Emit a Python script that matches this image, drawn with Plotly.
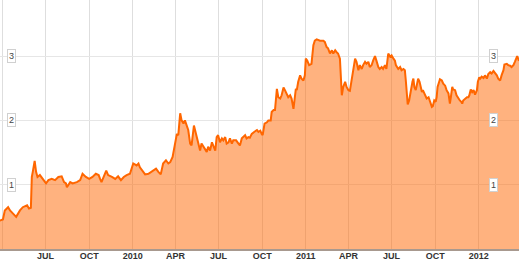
import pandas as pd
import plotly.graph_objects as go

# Days since 2009-04-01 and values
day_offsets = [
    -6, 1, 5, 12, 16, 22, 29, 37, 43, 52, 56, 60, 62, 64, 68, 71, 74, 79, 85, 92, 97, 104, 111, 118, 125,
    130, 134, 136, 143, 148, 157, 164, 169, 176, 183, 190, 197, 203, 206, 209, 219, 223, 231, 238, 244,
    250, 256, 262,
    269, 276, 283, 287, 290, 296, 301, 308, 315, 320, 324, 329, 334, 339, 345, 350, 354, 359, 364, 368,
    371, 375, 378, 382, 385, 389, 392, 396, 399, 404, 408, 413, 417, 420, 424, 427, 431, 434, 438, 442,
    445, 449, 452, 455, 459, 463, 466, 470, 473, 477, 480, 484, 487, 493, 498, 501, 505, 508, 512, 515,
    519, 522, 526, 531, 537, 540, 544,
    547, 549, 553, 558, 561, 566, 568, 572, 575, 577, 579, 582, 586, 589, 593, 596, 600, 603, 607, 610,
    614, 616, 619, 621, 624, 628, 631, 635, 638, 640, 643, 647, 652, 656, 659, 663, 670, 677, 680, 684,
    687, 691, 695, 698, 702, 705, 708, 712, 714, 716, 719, 723, 726, 730, 733, 737, 740, 744, 747, 751,
    754, 758, 761, 765, 768, 772, 775, 779, 782, 786, 789, 793, 796, 800, 803, 807, 810, 814,
    818, 821, 825, 828, 830, 833, 835, 839, 842, 846, 849, 851, 853, 855, 858, 860, 862, 865, 867, 869,
    872, 874, 877, 880, 883, 885, 887, 890, 892, 895, 899, 901, 904, 906, 908, 909, 911, 914, 916, 918,
    921, 923, 927, 930, 934, 937, 941, 944, 946, 949, 951, 955, 958, 962, 965, 968, 970, 972, 976, 980,
    983, 985, 988, 991, 994, 997, 1001, 1003, 1006, 1008, 1011, 1015, 1018, 1022, 1025, 1029, 1032, 1036,
    1039, 1043, 1046, 1050, 1053, 1057, 1059, 1064, 1067, 1071, 1074, 1078, 1081, 1084, 1086, 1089, 1092,
]
values = [
    0.44, 0.46, 0.60, 0.65, 0.60, 0.55, 0.50, 0.60, 0.65, 0.68, 0.63, 0.64, 1.12, 1.20, 1.37, 1.20, 1.12,
    1.15, 1.09, 1.02, 1.07, 1.09, 1.07, 1.12, 1.13, 1.04, 1.02, 0.96, 1.04, 1.02, 1.04, 1.07, 1.17, 1.12,
    1.09, 1.12, 1.17, 1.15, 1.09, 1.04, 1.22, 1.15, 1.12, 1.09, 1.13, 1.07, 1.12, 1.15,
    1.17, 1.33, 1.30, 1.33, 1.27, 1.20, 1.16, 1.17, 1.20, 1.22, 1.25, 1.20, 1.16, 1.33, 1.38, 1.33, 1.35,
    1.43, 1.64, 1.79, 1.77, 2.11, 2.00, 1.95, 2.00, 1.92, 1.85, 1.64, 1.61, 1.92, 1.79, 1.64, 1.53, 1.64,
    1.59, 1.56, 1.51, 1.59, 1.53, 1.66, 1.59, 1.53, 1.74, 1.77, 1.66, 1.72, 1.69, 1.74, 1.64, 1.66, 1.72,
    1.64, 1.69, 1.69, 1.64, 1.61, 1.72, 1.74, 1.77, 1.72, 1.74, 1.73, 1.79, 1.82, 1.85, 1.82, 1.84,
    1.79, 1.77, 1.95, 1.97, 2.00, 2.00, 2.13, 2.16, 2.16, 2.31, 2.49, 2.36, 2.34, 2.39, 2.51, 2.47, 2.39,
    2.36, 2.39, 2.34, 2.18, 2.31, 2.49, 2.47, 2.60, 2.70, 2.65, 2.62, 2.70, 2.96, 2.93, 2.86, 2.88, 3.17,
    3.24, 3.26, 3.24, 3.24, 3.22, 3.14, 3.12, 3.04, 3.09, 3.04, 3.09, 3.06, 3.04, 2.96, 2.67, 2.39, 2.52,
    2.60, 2.52, 2.47, 2.46, 2.67, 2.83, 2.96, 2.91, 2.78, 2.86, 2.80, 2.86, 2.91, 2.88, 2.91, 2.83, 2.86,
    2.93, 3.00, 2.93, 2.83, 2.80, 2.83, 2.80, 2.86, 2.80, 3.04,
    2.99, 3.01, 2.96, 2.93, 2.86, 2.83, 2.80, 2.83, 2.78, 2.80, 2.78, 2.62, 2.42, 2.25, 2.31, 2.39, 2.52,
    2.60, 2.65, 2.52, 2.47, 2.57, 2.65, 2.60, 2.52, 2.44, 2.47, 2.42, 2.39, 2.34, 2.36, 2.31, 2.23, 2.21,
    2.22, 2.26, 2.31, 2.29, 2.36, 2.52, 2.60, 2.64, 2.62, 2.57, 2.54, 2.47, 2.42, 2.26, 2.36, 2.52, 2.48,
    2.47, 2.39, 2.34, 2.31, 2.29, 2.26, 2.31, 2.34, 2.36, 2.36, 2.39, 2.48, 2.44, 2.47, 2.40, 2.47, 2.60,
    2.67, 2.65, 2.68, 2.66, 2.70, 2.65, 2.72, 2.75, 2.73, 2.77, 2.74, 2.70, 2.65, 2.62, 2.70, 2.78, 2.87,
    2.88, 2.86, 2.85, 2.83, 2.86, 2.91, 2.97, 3.00, 2.94, 2.95,
]

x_tick_dates = ["2009-04-01", "2009-07-01", "2009-10-01", "2010-01-01", "2010-04-01", "2010-07-01",
                "2010-10-01", "2011-01-01", "2011-04-01", "2011-07-01", "2011-10-01", "2012-01-01"]
x_tick_labels = ["", "JUL", "OCT", "2010", "APR", "JUL", "OCT", "2011", "APR", "JUL", "OCT", "2012"]
y_ticks = [1, 2, 3]

dates = pd.Timestamp("2009-04-01") + pd.to_timedelta(day_offsets, unit="D")

fig = go.Figure()
fig.add_trace(go.Scatter(
    x=dates, y=values, mode="lines",
    line=dict(color="#FF6600", width=2),
    fill="tozeroy", fillcolor="rgba(255,102,0,0.5)",
    hoverinfo="skip",
))

for t in y_ticks:
    for px in (0.0222, 0.9518):
        fig.add_annotation(
            x=px, xref="paper", y=t, yref="y", text=str(t), showarrow=False,
            font=dict(family="Liberation Sans, Arial, sans-serif", size=9, color="#444444"),
            bgcolor="white", bordercolor="#d0d0d0", borderwidth=1, borderpad=1,
            xanchor="center", yanchor="middle",
        )

fig.update_layout(
    width=519, height=262,
    margin=dict(l=0, r=0, t=0, b=13, autoexpand=False),
    paper_bgcolor="white", plot_bgcolor="white",
    showlegend=False,
    xaxis=dict(
        type="date",
        range=["2009-03-26 21:00", "2012-03-25 19:00"],
        tickmode="array", tickvals=x_tick_dates, ticktext=x_tick_labels,
        showgrid=True, gridcolor="#dedede", gridwidth=1,
        showline=True, linecolor="#a8998f", linewidth=2,
        ticks="", zeroline=False, ticklabelstandoff=-3,
        tickfont=dict(family="Liberation Sans, Arial, sans-serif", size=9, color="#333333", weight="bold"),
        fixedrange=True,
    ),
    yaxis=dict(
        range=[0, 3.872],
        tickmode="array", tickvals=y_ticks,
        showticklabels=False, showgrid=True, gridcolor="#e6e6e6", gridwidth=1,
        zeroline=False, showline=False, ticks="",
        fixedrange=True,
    ),
)

fig.write_html("out.html")
